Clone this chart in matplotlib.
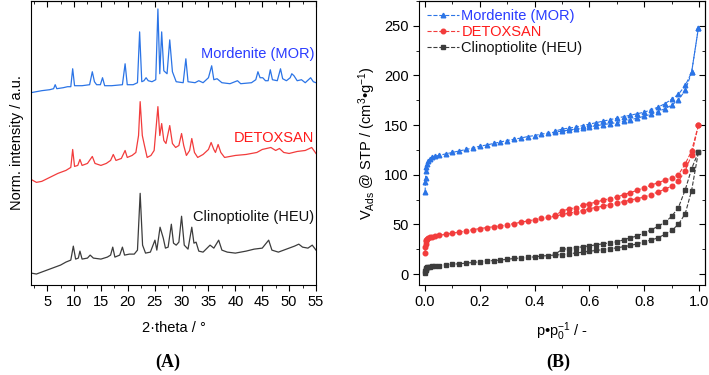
import matplotlib
matplotlib.use("Agg")
import matplotlib.pyplot as plt
from matplotlib.ticker import MultipleLocator

plt.rcParams['font.family'] = ['Liberation Sans', 'DejaVu Sans']
plt.rcParams['mathtext.fontset'] = 'custom'
plt.rcParams['mathtext.rm'] = 'Liberation Sans'
plt.rcParams['mathtext.it'] = 'Liberation Sans:italic'
plt.rcParams['font.size'] = 10

# ---- XRD patterns (2theta in deg, intensity in a.u., offset stacked) ----
tt_mor = [2.0, 4.0, 5.5, 6.2, 6.5, 6.8, 8.0, 8.8, 9.4, 9.75, 10.1, 11.5, 12.9, 13.4, 13.8, 14.2,
          14.9, 15.3, 15.7, 17.0, 19.0, 19.5, 19.9, 21.0, 21.8, 22.2, 22.6, 23.0, 23.4, 23.8,
          24.5, 25.2, 25.6, 25.95, 26.3, 26.7, 27.3, 27.8, 28.3, 29.0, 30.3, 30.8, 31.2, 32.5,
          33.2, 34.0, 35.0, 35.6, 36.0, 36.6, 37.5, 39.0, 40.4, 41.0, 43.0, 43.8, 44.2, 44.6,
          45.1, 45.6, 46.1, 46.5, 46.9, 47.8, 48.4, 48.8, 49.5, 50.2, 50.5, 50.9, 51.5, 52.3,
          53.0, 54.0, 54.5, 55.0]
i_mor = [193, 195, 196, 197, 201, 197, 198, 199, 199, 217, 200, 200, 201, 214, 204, 201,
         201, 208, 200, 200, 201, 222, 201, 201, 203, 254, 204, 205, 208, 205,
         204, 206, 277, 212, 254, 215, 212, 246, 214, 204, 203, 227, 204, 203,
         205, 203, 208, 220, 206, 207, 203, 202, 205, 202, 203, 206, 214, 208,
         208, 205, 205, 216, 206, 205, 217, 207, 205, 208, 212, 210, 205, 206,
         203, 208, 204, 203]

tt_det = [2.0, 3.0, 4.0, 5.5, 7.0, 8.5, 9.4, 9.75, 10.1, 10.7, 11.1, 11.5, 12.5, 13.4, 13.9,
          15.0, 16.0, 16.8, 17.3, 17.8, 18.8, 19.5, 19.9, 20.8, 21.5, 22.0, 22.3, 22.7, 23.1,
          23.6, 24.3, 24.9, 25.6, 25.95, 26.3, 26.7, 27.1, 27.8, 28.3, 28.9, 29.5, 30.0, 30.4,
          30.9, 31.5, 31.9, 32.4, 33.0, 34.0, 35.0, 35.5, 36.0, 36.3, 36.8, 37.3, 38.0, 40.0,
          42.0, 44.0, 45.0, 46.6, 47.5, 48.2, 49.0, 50.0, 51.5, 53.0, 54.2, 55.0]
i_det = [106, 103, 104, 108, 112, 115, 118, 136, 119, 120, 126, 120, 122, 129, 122,
         120, 122, 125, 131, 125, 127, 135, 128, 130, 133, 150, 184, 150, 140,
         128, 130, 135, 179, 150, 162, 145, 142, 160, 142, 138, 140, 152, 140,
         130, 135, 147, 133, 128, 131, 136, 143, 136, 133, 141, 133, 128, 130,
         131, 133, 136, 138, 135, 137, 133, 132, 134, 135, 138, 132]

tt_heu = [2.0, 3.0, 4.5, 6.0, 7.5, 8.5, 9.4, 9.87, 10.3, 10.8, 11.1, 11.5, 12.5, 13.0, 13.6,
          15.0, 16.2, 16.8, 17.2, 17.6, 18.5, 19.0, 19.4, 20.3, 21.2, 21.8, 22.3, 22.75, 23.3,
          24.2, 25.05, 25.4, 26.0, 26.6, 27.0, 27.5, 28.1, 28.5, 29.0, 29.5, 30.0, 30.5, 31.2,
          31.9, 32.3, 32.7, 33.2, 34.0, 35.3, 36.0, 36.9, 37.5, 38.5, 40.0, 42.0, 43.5, 45.0,
          46.2, 46.8, 48.0, 49.5, 51.0, 51.8, 52.5, 53.5, 54.3, 55.0]
i_heu = [12, 11, 14, 17, 20, 23, 25, 39, 26, 27, 34, 26, 27, 30, 27,
         26, 28, 30, 38, 28, 30, 38, 30, 31, 31, 35, 92, 40, 32,
         33, 45, 35, 58, 47, 37, 38, 61, 42, 40, 43, 69, 40, 36,
         58, 42, 43, 34, 33, 40, 37, 45, 35, 33, 32, 34, 36, 37,
         45, 35, 33, 36, 39, 41, 38, 37, 40, 35]

# ---- N2 isotherms (relative pressure, V ads cm3/g) ----
p_ads = [0.0005, 0.001, 0.002, 0.003, 0.005, 0.008, 0.012, 0.018, 0.025, 0.035, 0.05, 0.075,
         0.1, 0.125, 0.15, 0.175, 0.2, 0.225, 0.25, 0.275, 0.3, 0.325, 0.35, 0.375, 0.4, 0.425,
         0.45, 0.475, 0.5, 0.525, 0.55, 0.575, 0.6, 0.625, 0.65, 0.675, 0.7, 0.725, 0.75, 0.775,
         0.8, 0.825, 0.85, 0.875, 0.9, 0.925, 0.95, 0.973, 0.998]
p_des = [0.998, 0.973, 0.95, 0.925, 0.9, 0.875, 0.85, 0.825, 0.8, 0.775, 0.75, 0.725, 0.7,
         0.675, 0.65, 0.625, 0.6, 0.575, 0.55, 0.525, 0.5, 0.475]

mor_ads = [83, 93, 97, 104, 108, 111, 114, 116, 117.5, 118.5, 119.5, 121, 122.5, 124, 125.5,
           127, 128.8, 130, 131.5, 133, 134.5, 135.8, 137, 138.5, 139.5, 141, 142, 143, 144,
           145, 146, 147, 148, 149.5, 150.5, 151.5, 152.5, 154, 155.5, 157, 159, 161, 163.5,
           166.5, 170, 175.5, 185, 203, 248]
mor_des = [248, 203, 190, 181, 176, 171.5, 168, 165.5, 163, 161.5, 160, 158.5, 157, 155.5,
           154, 152.5, 151, 149.5, 148, 147, 146, 144]

det_ads = [21, 27, 30.5, 33, 34.5, 35.5, 36.3, 37, 37.7, 38.3, 39, 40, 41.2, 42.3, 43.5, 44.8,
           45.8, 46.8, 47.7, 48.5, 49.6, 50.9, 52.2, 53.5, 54.8, 56, 57.2, 58.2, 60, 61.3, 62.6,
           64, 66, 67, 68.5, 70, 71.6, 73, 74.6, 76, 77.6, 80, 82.6, 85.5, 88.5, 93.5, 104,
           120, 150]
det_des = [150, 124, 111, 100, 97, 94.5, 92, 89.5, 87, 84.5, 82, 80, 77.6, 76, 74.5, 72.5, 71,
           69.5, 67, 65.5, 63.6, 59]

heu_ads = [0.7, 3, 4.5, 5.5, 6.2, 6.8, 7.2, 7.6, 8, 8.3, 8.6, 9.2, 9.9, 10.4, 11, 11.7, 12.4,
           13.1, 13.6, 14.1, 14.9, 15.7, 16.2, 16.7, 17.4, 18.1, 18.7, 19.2, 19.6, 20.4, 21.2,
           22, 23, 23.8, 24.6, 25.5, 26.4, 27.6, 28.8, 30.5, 32.4, 34.3, 36.4, 40, 44, 50, 61,
           84, 123]
heu_des = [123, 106, 85, 67, 58, 52, 48, 44.5, 41.5, 38.5, 36.5, 34.5, 32.5, 31.5, 30.5, 29.5,
           28.4, 27.5, 26.5, 25.7, 24.8, 20]

names = ["Mordenite (MOR)", "DETOXSAN", "Clinoptiolite (HEU)"]
line_cols = ["#2b74e6", "#f23c3c", "#3c3c3c"]
text_cols = ["#2a3cff", "#ff1a1a", "#111111"]

fig = plt.figure(figsize=(7.09, 3.75), dpi=100)

# ---------------- (A) ----------------
ax1 = fig.add_axes([31/709, 90/375, 285/709, 284/375])
ax1.plot(tt_mor, i_mor, color=line_cols[0], lw=0.9)
ax1.plot(tt_det, i_det, color=line_cols[1], lw=0.9)
ax1.plot(tt_heu, i_heu, color=line_cols[2], lw=0.9)
ax1.set_xlim(2, 55)
ax1.set_ylim(0, 285)
ax1.xaxis.set_major_locator(MultipleLocator(5))
ax1.xaxis.set_minor_locator(MultipleLocator(2.5))
ax1.set_yticks([])
ax1.tick_params(axis='x', which='both', direction='out', labelsize=10.5)
ax1.tick_params(axis='x', which='major', length=4)
ax1.tick_params(axis='x', which='minor', length=2)
ax1x = ax1.secondary_xaxis('top')
ax1x.xaxis.set_major_locator(MultipleLocator(5))
ax1x.xaxis.set_minor_locator(MultipleLocator(2.5))
ax1x.tick_params(which='both', direction='in', labeltop=False)
ax1x.tick_params(which='major', length=4)
ax1x.tick_params(which='minor', length=2)
ax1.set_xlabel("2·theta / °", fontsize=10.5, labelpad=8)
ax1.set_ylabel("Norm. intensity / a.u.", fontsize=10.5, labelpad=5)
lab_y = [53, 137, 217]
for name, col, yy in zip(names, text_cols, lab_y):
    ax1.text(54.7, 285 - yy, name, color=col, fontsize=10.5, ha='right', va='center')
fig.text(168/709, 1 - 362/375, "(A)", fontsize=13, fontweight='bold',
         family='Liberation Serif', ha='center', va='center')

# ---------------- (B) ----------------
ax2 = fig.add_axes([419/709, 90/375, 286/709, 284/375])
mk = ['^', 'o', 's']
ads = [mor_ads, det_ads, heu_ads]
des = [mor_des, det_des, heu_des]
for i in range(3):
    ax2.plot(p_ads, ads[i], ls='--', lw=0.8, color=line_cols[i], marker=mk[i],
             markersize=3.3, label=names[i])
    ax2.plot(p_des, des[i], ls='--', lw=0.8, color=line_cols[i], marker=mk[i],
             markersize=3.3)
ax2.set_xlim(-0.022, 1.022)
ax2.set_ylim(-11, 275)
for a in (ax2.xaxis, ):
    pass
ax2.xaxis.set_major_locator(MultipleLocator(0.2))
ax2.xaxis.set_minor_locator(MultipleLocator(0.1))
ax2.yaxis.set_major_locator(MultipleLocator(50))
ax2.yaxis.set_minor_locator(MultipleLocator(25))
ax2.xaxis.set_major_formatter(plt.FormatStrFormatter('%.1f'))
ax2.tick_params(which='both', direction='out', labelsize=10.5)
ax2.tick_params(which='major', length=4)
ax2.tick_params(which='minor', length=2)
ax2t = ax2.secondary_xaxis('top')
ax2t.xaxis.set_major_locator(MultipleLocator(0.2))
ax2t.xaxis.set_minor_locator(MultipleLocator(0.1))
ax2t.tick_params(which='both', direction='in', labeltop=False)
ax2t.tick_params(which='major', length=4)
ax2t.tick_params(which='minor', length=2)
ax2r = ax2.secondary_yaxis('right')
ax2r.yaxis.set_major_locator(MultipleLocator(50))
ax2r.yaxis.set_minor_locator(MultipleLocator(25))
ax2r.tick_params(which='both', direction='in', labelright=False)
ax2r.tick_params(which='major', length=4)
ax2r.tick_params(which='minor', length=2)
ax2.set_xlabel("p•p$_0^{-1}$ / -", fontsize=10.5, labelpad=8)
ax2.set_ylabel("V$_{\\mathrm{Ads}}$ @ STP / (cm$^3$•g$^{-1}$)", fontsize=10.5, labelpad=4)
leg = ax2.legend(loc='upper left', frameon=False, fontsize=10.5, handlelength=2.2,
                 handletextpad=0.15, labelspacing=0.15, borderaxespad=0.35,
                 borderpad=0.2, numpoints=1, labelcolor=text_cols)
fig.text(558/709, 1 - 362/375, "(B)", fontsize=13, fontweight='bold',
         family='Liberation Serif', ha='center', va='center')

fig.savefig("out.png", dpi=100)
